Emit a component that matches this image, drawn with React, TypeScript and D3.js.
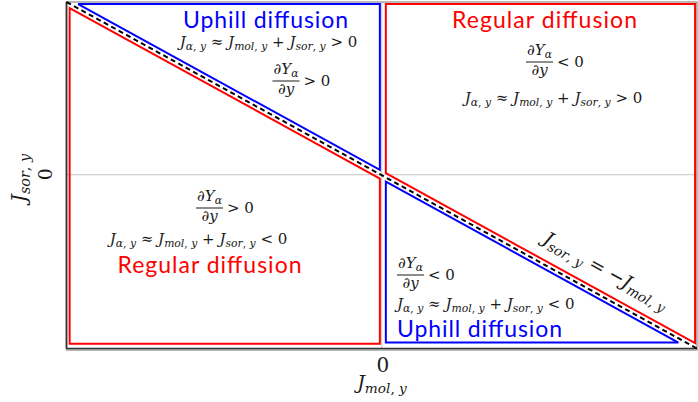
import React from 'react'
import * as d3 from 'd3'

const W = 698
const H = 402

// normalised flux axes, zero in the middle
const xDomain = [-1, 1]
const yDomain = [-1, 1]
const xTicks = [0]
const yTicks = [0]

// the balance line J_sor = -J_mol
const balanceLine: [number, number][] = [[-1, 1], [1, -1]]

// region outlines, in flux units (kept a hair off the balance line)
const uphillUpper: [number, number][] = [[-0.963, 0.988], [-0.006, 0.988], [-0.006, 0.031]]
const regularLower: [number, number][] = [[-0.99, 0.965], [-0.006, -0.019], [-0.006, -0.972], [-0.99, -0.972]]
const regularUpper: [number, number][] = [[0.013, 0.988], [0.994, 0.988], [0.994, -0.969], [0.013, 0.012]]
const uphillLower: [number, number][] = [[0.013, -0.037], [0.941, -0.966], [0.013, -0.966]]

const MATH_FONT = "'DejaVu Serif', serif"
const TITLE_FONT = "Lato, 'Open Sans', sans-serif"
const INK = '#1a1a1a'
const RED = '#ff0000'
const BLUE = '#0000ff'

type Seg = { t: string; sub: boolean; it: boolean }

// tiny parser: letters italic, x_{..} subscript
function parseMath(src: string): Seg[] {
  const segs: Seg[] = []
  let sub = false
  for (let i = 0; i < src.length; i++) {
    const c = src[i]
    if (c === '_' && src[i + 1] === '{') { sub = true; i++; continue }
    if (c === '}' && sub) { sub = false; continue }
    const it = /[A-Za-zα-ω]/.test(c)
    const last = segs[segs.length - 1]
    if (last && last.sub === sub && last.it === it) last.t += c
    else segs.push({ t: c, sub, it })
  }
  return segs
}

const MathText = ({ src, x, y, size, anchor = 'middle', transform }: any) => {
  const segs = parseMath(src)
  let down = false
  return (
    <text x={x} y={y} fontSize={size} textAnchor={anchor} transform={transform}
      fontFamily={MATH_FONT} fill={INK} style={{ whiteSpace: 'pre' }}>
      {segs.map((s, i) => {
        let dy = 0
        if (s.sub && !down) { dy = size * 0.22; down = true }
        else if (!s.sub && down) { dy = -size * 0.22; down = false }
        return (
          <tspan key={i} dy={dy || undefined} fontSize={s.sub ? size * 0.72 : size}
            fontStyle={s.it ? 'italic' : 'normal'}>{s.t}</tspan>
        )
      })}
    </text>
  )
}

const Fraction = ({ cx, bar, num, den, op, size = 15 }: any) => {
  const w = 27
  return (
    <g>
      <MathText src={num} x={cx} y={bar - 7} size={size} />
      <line x1={cx - w / 2} x2={cx + w / 2} y1={bar} y2={bar} stroke={INK} strokeWidth={1} />
      <MathText src={den} x={cx} y={bar + 13} size={size} />
      <MathText src={op} x={cx + w / 2 + 4} y={bar + 5} size={size} anchor="start" />
    </g>
  )
}

const Title = ({ x, y, color, children, len, anchor = 'middle' }: any) => (
  <text x={x} y={y} fill={color} fontFamily={TITLE_FONT} fontSize={23}
    textAnchor={anchor} textLength={len}>{children}</text>
)

const App = () => {
  const x = d3.scaleLinear().domain(xDomain).range([66.5, 697])
  const y = d3.scaleLinear().domain(yDomain).range([348.5, 2])

  const line = d3.line<[number, number]>().x((d) => x(d[0])).y((d) => y(d[1]))
  const outline = (pts: [number, number][]) => line(pts) + 'Z'

  const [p0, p1] = balanceLine
  const angle = (Math.atan2(y(p1[1]) - y(p0[1]), x(p1[0]) - x(p0[0])) * 180) / Math.PI

  const eqJ = (sign: string) => `J_{α, y} ≈ J_{mol, y} + J_{sor, y} ${sign} 0`

  return (
    <svg width={W} height={H} style={{ position: 'absolute', left: 0, top: 0, background: '#fff' }}>
      {/* zero lines */}
      {yTicks.map((t) => (
        <line key={'h' + t} x1={x(-1)} x2={x(1)} y1={y(t) - 0.5} y2={y(t) - 0.5} stroke="#c4c4c4" strokeWidth={1} />
      ))}
      {xTicks.map((t) => (
        <line key={'v' + t} x1={x(t)} x2={x(t)} y1={y(1)} y2={y(-1)} stroke="#c4c4c4" strokeWidth={1} />
      ))}

      {/* frame */}
      <rect x={x(-1)} y={y(1)} width={x(1) - x(-1)} height={y(-1) - y(1) + 1.5} fill="none" stroke="#8a8a8a" strokeWidth={1.2} />
      <line x1={x(-1)} x2={x(-1)} y1={y(1)} y2={y(-1)} stroke="#333" strokeWidth={1.8} />
      <line x1={x(-1)} x2={x(1)} y1={y(-1)} y2={y(-1)} stroke="#333" strokeWidth={1.6} />

      {/* regions */}
      <path d={outline(regularLower)} fill="none" stroke={RED} strokeWidth={2} />
      <path d={outline(regularUpper)} fill="none" stroke={RED} strokeWidth={2} />
      <path d={outline(uphillUpper)} fill="none" stroke={BLUE} strokeWidth={2} />
      <path d={outline(uphillLower)} fill="none" stroke={BLUE} strokeWidth={2} />

      {/* balance line */}
      <path d={line(balanceLine) || ''} stroke="#000" strokeWidth={2} strokeDasharray="5 3.5" fill="none" />

      {/* upper left */}
      <Title x={265.5} y={28} color={BLUE} len={165}>Uphill diffusion</Title>
      <MathText src={eqJ('>')} x={268.5} y={47} size={15} />
      <Fraction cx={286} bar={81} num="∂Y_{α}" den="∂y" op="> 0" />

      {/* upper right */}
      <Title x={544.5} y={28} color={RED} len={185}>Regular diffusion</Title>
      <Fraction cx={539.5} bar={62} num="∂Y_{α}" den="∂y" op="< 0" />
      <MathText src={eqJ('>')} x={553.5} y={103} size={15} />

      {/* lower left */}
      <Fraction cx={209.5} bar={208} num="∂Y_{α}" den="∂y" op="> 0" />
      <MathText src={eqJ('<')} x={198.5} y={244} size={15} />
      <Title x={209.5} y={273} color={RED} len={184}>Regular diffusion</Title>

      {/* lower right */}
      <Fraction cx={410.5} bar={275} num="∂Y_{α}" den="∂y" op="< 0" />
      <MathText src={eqJ('<')} x={397} y={309} size={15} anchor="start" />
      <Title x={397} y={337} color={BLUE} len={165} anchor="start">Uphill diffusion</Title>

      {/* label on the balance line */}
      <MathText src="J_{sor, y} = −J_{mol, y}" x={603} y={276} size={19}
        transform={`rotate(${angle} 603 276)`} />

      {/* axes labels */}
      {xTicks.map((t) => (
        <MathText key={'xt' + t} src="0" x={x(t) + 1} y={372} size={20} />
      ))}
      <MathText src="J_{mol, y}" x={382} y={389} size={19} />
      {yTicks.map((t) => (
        <MathText key={'yt' + t} src="0" x={52} y={y(t) - 1} size={19}
          transform={`rotate(-90 52 ${y(t) - 1})`} />
      ))}
      <MathText src="J_{sor, y}" x={26} y={178} size={20} transform="rotate(-90 26 178)" />
    </svg>
  )
}

export default App
